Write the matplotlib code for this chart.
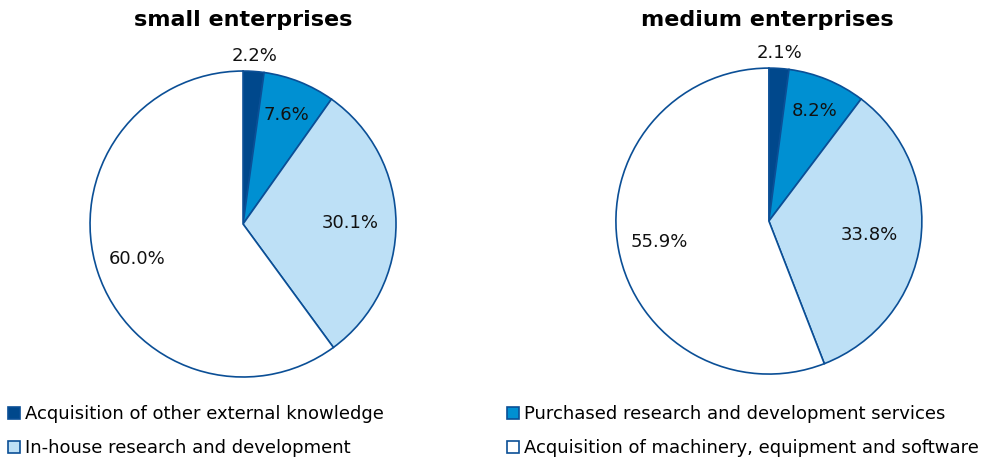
import numpy as np
import matplotlib.pyplot as plt
from matplotlib.patches import Patch

# Shares of innovation expenditure by type, in percent
categories = [
    "Acquisition of other external knowledge",
    "Purchased research and development services",
    "In-house research and development",
    "Acquisition of machinery, equipment and software",
]
small_values = [2.2, 7.6, 30.1, 60.0]
medium_values = [2.1, 8.2, 33.8, 55.9]
titles = ["small enterprises", "medium enterprises"]

colors = ["#00488c", "#0090d2", "#bde0f6", "#ffffff"]
edge = "#0b4f96"

plt.rcParams["font.family"] = ["DejaVu Sans"]

fig = plt.figure(figsize=(9.95, 4.59), dpi=100)

# pie axes placed so each pie has a ~153 px radius
ax_left = fig.add_axes([0.0905, 0.1786, 0.3075, 0.6667])
ax_right = fig.add_axes([0.619, 0.185, 0.3075, 0.6667])


def draw_pie(ax, values, inner_dist):
    wedges, _ = ax.pie(values, colors=colors, startangle=90, counterclock=False,
                       radius=1.0,
                       wedgeprops=dict(edgecolor=edge, linewidth=1.2))
    for w, v, d in zip(wedges, values, inner_dist):
        ang = np.radians((w.theta1 + w.theta2) / 2)
        ax.text(d * np.cos(ang), d * np.sin(ang), f"{v:.1f}%",
                ha="center", va="center", fontsize=13, color="#111111")
    ax.set_xlim(-1, 1)
    ax.set_ylim(-1, 1)
    ax.set_aspect("equal")
    ax.axis("off")


draw_pie(ax_left, small_values, [1.1, 0.77, 0.7, 0.73])
draw_pie(ax_right, medium_values, [1.1, 0.78, 0.66, 0.73])

fig.text(243 / 995, 1 - 20 / 459, titles[0], ha="center", va="center",
         fontsize=16, fontweight="bold")
fig.text(767 / 995, 1 - 20 / 459, titles[1], ha="center", va="center",
         fontsize=16, fontweight="bold")

handles = [Patch(facecolor=c, edgecolor=edge, linewidth=1.2) for c in colors]

common = dict(frameon=False, fontsize=13, handlelength=0.65, handleheight=0.65,
              handletextpad=0.3, labelspacing=0.88, borderpad=0, borderaxespad=0)
fig.legend([handles[0], handles[2]], [categories[0], categories[2]],
           loc="upper left", bbox_to_anchor=(8 / 995, 1 - 405 / 459), **common)
fig.legend([handles[1], handles[3]], [categories[1], categories[3]],
           loc="upper left", bbox_to_anchor=(507 / 995, 1 - 405 / 459), **common)

fig.savefig("out.png", dpi=100)
